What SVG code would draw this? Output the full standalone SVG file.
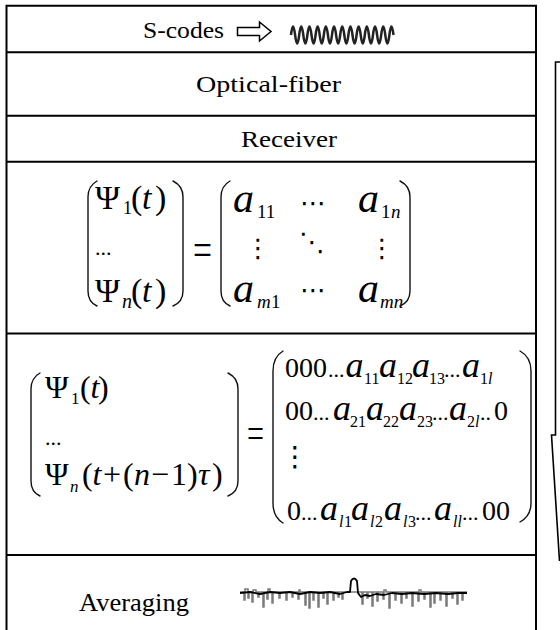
<svg xmlns="http://www.w3.org/2000/svg" width="560" height="630" viewBox="0 0 560 630">
<style>
.t{font-family:"Liberation Serif","Times New Roman",serif;fill:#000}
.m{font-family:"Liberation Serif","Times New Roman",serif;fill:#000}
.i{font-style:italic}
.d{font-family:"DejaVu Serif","DejaVu Sans",serif;fill:#000}
.frame{fill:none;stroke:#000;stroke-width:2}
.par{fill:none;stroke:#111;stroke-width:1.4;stroke-linecap:round}
</style>
<rect width="560" height="630" fill="#fff"/>
<g id="frame">
<path class="frame" d="M6.5 640 V5.7 H536 V640"/>
<path class="frame" d="M6.5 52.3 H536 M6.5 115.7 H536 M6.5 161.7 H536 M6.5 333.5 H536 M6.5 555 H536"/>
</g>
<g id="s-codes">
<text class="t" x="143" y="38" font-size="23" textLength="81" lengthAdjust="spacingAndGlyphs">S-codes</text>
<path d="M237.5 27.5 H259.5 V22 L271 31.5 L259.5 41 V35.5 H237.5 Z" fill="#fff" stroke="#000" stroke-width="1.5" stroke-linejoin="miter"/>
<path d="M291 35 q2 -17 4.1 0 t4.1 0 t4.1 0 t4.1 0 t4.1 0 t4.1 0 t4.1 0 t4.1 0 t4.1 0 t4.1 0 t4.1 0 t4.1 0 t4.1 0 t4.1 0 t4.1 0 t4.1 0 t4.1 0 t4.1 0 t4.1 0 t4.1 0 t4.1 0 t4.1 0 t4.1 0 t4.1 0 t4.1 0" fill="none" stroke="#222" stroke-width="2.5"/>
</g>
<g id="optical-fiber">
<text class="t" x="196" y="92" font-size="24" textLength="145" lengthAdjust="spacingAndGlyphs">Optical-fiber</text>
</g>
<g id="receiver">
<text class="t" x="241" y="147" font-size="24" textLength="96" lengthAdjust="spacingAndGlyphs">Receiver</text>
</g>
<g id="matrix-equation">
<path class="par" d="M97 181 Q88 186 88 197 V291 Q88 302 97 306"/>
<text class="m" x="95" y="209" font-size="34">Ψ</text>
<text class="m" x="123" y="214" font-size="18">1</text>
<text class="m" font-size="34" y="209"><tspan x="131">(</tspan><tspan x="142" class="i">t</tspan><tspan x="155">)</tspan></text>
<text class="m" x="95" y="255" font-size="22">...</text>
<text class="m" x="95" y="302" font-size="34">Ψ</text>
<text class="m i" x="122" y="308" font-size="20">n</text>
<text class="m" font-size="34" y="302"><tspan x="131">(</tspan><tspan x="142" class="i">t</tspan><tspan x="155">)</tspan></text>
<path class="par" d="M173 181 Q183 186 183 197 V291 Q183 302 173 306"/>
<text class="m" x="193" y="265" font-size="46" textLength="19" lengthAdjust="spacingAndGlyphs">=</text>
<path class="par" d="M230 181 Q221 186 221 197 V291 Q221 302 230 306"/>
<text class="m i" x="233" y="212" font-size="42">a</text>
<text class="m" x="257" y="218" font-size="19">11</text>
<text class="d" x="300" y="212" font-size="26">⋯</text>
<text class="m i" x="358" y="212" font-size="42">a</text>
<text class="m" y="218" font-size="19"><tspan x="381">1</tspan><tspan x="391" class="i">n</tspan></text>
<text class="d" x="245" y="257" font-size="26">⋮</text>
<text class="d" x="299" y="251" font-size="26">⋱</text>
<text class="d" x="369" y="257" font-size="26">⋮</text>
<text class="m i" x="233" y="302" font-size="42">a</text>
<text class="m" y="308" font-size="19"><tspan x="257" class="i">m</tspan><tspan x="271">1</tspan></text>
<text class="d" x="300" y="299" font-size="26">⋯</text>
<text class="m i" x="358" y="302" font-size="42">a</text>
<text class="m i" x="380" y="308" font-size="19">mn</text>
<path class="par" d="M400 181 Q410 186 410 197 V291 Q410 302 400 306"/>
</g>
<g id="shift-equation">
<path class="par" d="M40 373 Q31 378 31 389 V481 Q31 492 40 496"/>
<text class="m" x="45" y="398" font-size="32">Ψ</text>
<text class="m" x="71" y="404" font-size="17">1</text>
<text class="m" font-size="32" y="398"><tspan x="80">(</tspan><tspan x="90.5" class="i">t</tspan><tspan x="98">)</tspan></text>
<text class="m" x="45" y="445" font-size="22">...</text>
<text class="m" x="45" y="485" font-size="32">Ψ</text>
<text class="m i" x="70" y="492" font-size="17">n</text>
<text class="m" y="485" font-size="32"><tspan x="82">(</tspan><tspan x="92.5" class="i">t</tspan><tspan x="103">+</tspan><tspan x="123">(</tspan><tspan x="134" class="i">n</tspan><tspan x="151">−</tspan><tspan x="171">1</tspan><tspan x="187">)</tspan><tspan x="198" class="i">τ</tspan><tspan x="212">)</tspan></text>
<path class="par" d="M228 373 Q238 378 238 389 V481 Q238 492 228 496"/>
<text class="m" x="247" y="447" font-size="42" textLength="17" lengthAdjust="spacingAndGlyphs">=</text>
<path class="par" d="M283 351 Q273 357 273 371 V503 Q273 517 283 523"/>
<text class="m" y="377" font-size="28"><tspan x="285" textLength="42" lengthAdjust="spacingAndGlyphs">000</tspan><tspan x="328" font-size="22">...</tspan><tspan x="345.5" class="i" font-size="36">a</tspan><tspan x="364" y="384" font-size="16">11</tspan><tspan x="379" y="377" class="i" font-size="36">a</tspan><tspan x="397" y="384" font-size="16">12</tspan><tspan x="412" y="377" class="i" font-size="36">a</tspan><tspan x="429" y="384" font-size="16">13</tspan><tspan x="444" y="377" font-size="22">...</tspan><tspan x="462" class="i" font-size="36">a</tspan><tspan x="480" y="384" font-size="16">1</tspan><tspan x="488" class="i" font-size="16">l</tspan></text>
<text class="m" y="420" font-size="28"><tspan x="285">00</tspan><tspan x="313" font-size="22">...</tspan><tspan x="333" class="i" font-size="36">a</tspan><tspan x="350" y="427" font-size="16">21</tspan><tspan x="366" y="420" class="i" font-size="36">a</tspan><tspan x="383" y="427" font-size="16">22</tspan><tspan x="399" y="420" class="i" font-size="36">a</tspan><tspan x="417" y="427" font-size="16">23</tspan><tspan x="432" y="420" font-size="22">...</tspan><tspan x="449" class="i" font-size="36">a</tspan><tspan x="467" y="427" font-size="16">2</tspan><tspan x="475" class="i" font-size="16">l</tspan><tspan x="480" y="420" font-size="22">..</tspan><tspan x="494">0</tspan></text>
<text class="d" x="281" y="466" font-size="28">⋮</text>
<text class="m" y="520" font-size="28"><tspan x="287">0</tspan><tspan x="301" font-size="22">...</tspan><tspan x="320" class="i" font-size="36">a</tspan><tspan x="339" y="527" class="i" font-size="16">l</tspan><tspan x="344" font-size="16">1</tspan><tspan x="351" y="520" class="i" font-size="36">a</tspan><tspan x="370" y="527" class="i" font-size="16">l</tspan><tspan x="375" font-size="16">2</tspan><tspan x="384" y="520" class="i" font-size="36">a</tspan><tspan x="403" y="527" class="i" font-size="16">l</tspan><tspan x="408" font-size="16">3</tspan><tspan x="415" y="520" font-size="22">...</tspan><tspan x="434" class="i" font-size="36">a</tspan><tspan x="453" y="527" class="i" font-size="16">ll</tspan><tspan x="462" y="520" font-size="22">...</tspan><tspan x="482">00</tspan></text>
<path class="par" d="M520 351 Q531 357 531 371 V503 Q531 516 520 522"/>
</g>
<g id="averaging">
<text class="t" x="79" y="611" font-size="25" textLength="110" lengthAdjust="spacingAndGlyphs">Averaging</text>
<path d="M240 592 H244 V600 H245 V589 H248 V598 H249 V592 H252 V602 H253 V590 H256 V592 H258 V597 H259 V592 H263 V607 H264 V592 H267 V599 H268 V589 H270 V592 H272 V603 H273 V592 H279 V598 H280 V592 H286 V600 H287 V592 H292 V597 H293 V592 H298 V599 H299 V590 H300 V592 H305 V605 H306 V592 H309 V608 H310 V592 H313 V600 H314 V592 H318 V607 H319 V592 H323 V598 H324 V592 H327 V604 H328 V592 H333 V600 H334 V592 H338 V597 H339 V592 H342 V599 H343 V592 H362 V604 H363 V592 H367 V598 H368 V592 H372 V606 H373 V592 H377 V601 H378 V592 H383 V599 H384 V590 H386 V592 H389 V608 H390 V592 H395 V600 H396 V592 H401 V603 H402 V592 H406 V598 H407 V592 H412 V606 H413 V592 H418 V601 H419 V590 H421 V592 H424 V599 H425 V592 H430 V607 H431 V592 H434 V603 H435 V592 H440 V600 H441 V592 H446 V606 H447 V592 H452 V598 H453 V592 H457 V604 H458 V592 H462 V600 H463 V592 H467" fill="none" stroke="#7a7a7a" stroke-width="1.5"/>
<path d="M240 593 L250 592 L260 594 L270 592 L280 593 L290 592 L300 594 L310 592 L320 593 L330 592 L340 594 L347 592 L350 592 L351 581 Q354 576 357 581 L358 593 L361 597 L365 595 L370 596 L376 594 L384 595 L392 593 L402 594 L412 593 L424 594 L436 593 L448 594 L458 593 L467 593" fill="none" stroke="#000" stroke-width="1.8" stroke-linejoin="round"/>
</g>
<g id="connectors">
<path d="M562 62 H555.5 V435 H551.5 L559.5 561" fill="none" stroke="#000" stroke-width="1.6"/>
</g>
</svg>
